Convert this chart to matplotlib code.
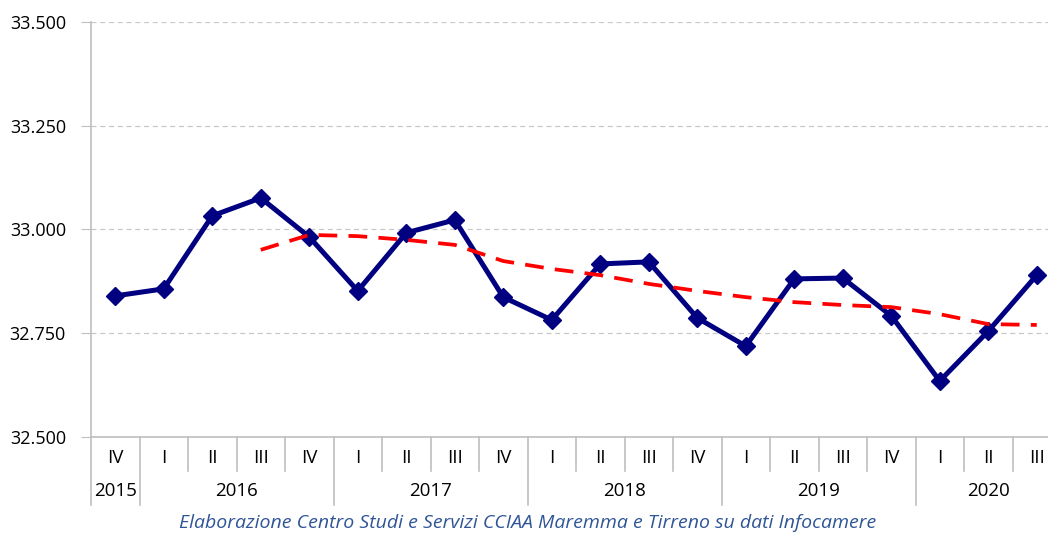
import matplotlib.pyplot as plt
import matplotlib.ticker as mticker
from matplotlib.lines import Line2D

quarters = ["IV", "I", "II", "III", "IV", "I", "II", "III", "IV", "I",
            "II", "III", "IV", "I", "II", "III", "IV", "I", "II", "III"]
years = ["2015", "2016", "2017", "2018", "2019", "2020"]
year_start = [0, 1, 5, 9, 13, 17]   # first quarter index of each year
imprese = [32840, 32857, 33033, 33076, 32982, 32852, 32992, 33023, 32837, 32782,
           32917, 32922, 32787, 32719, 32881, 32883, 32792, 32635, 32755, 32890]
# trend (dashed red), starts at III 2016
trend_idx = list(range(3, 20))
trend = [32951, 32987, 32984, 32975, 32963, 32924, 32905, 32890, 32869, 32852,
         32837, 32825, 32818, 32813, 32796, 32772, 32770]
caption = "Elaborazione Centro Studi e Servizi CCIAA Maremma e Tirreno su dati Infocamere"

plt.rcParams['font.family'] = ['Open Sans', 'DejaVu Sans']

W, H = 1048, 534
fig = plt.figure(figsize=(W / 100, H / 100), dpi=100)
x0, x1, ytop, ybot = 91, 1061, 22, 437
ax = fig.add_axes([x0 / W, 1 - ybot / H, (x1 - x0) / W, (ybot - ytop) / H])

x = list(range(len(quarters)))
ax.plot(x, imprese, color='#000080', lw=3.6, marker='D', ms=9.5, zorder=3)
ax.plot(trend_idx, trend, color='#FF0000', lw=2.7, ls=(0, (5, 3)), zorder=4)

ax.set_xlim(-0.5, len(quarters) - 0.5)
ax.set_ylim(32500, 33500)
ax.yaxis.set_major_locator(mticker.MultipleLocator(250))
ax.yaxis.set_major_formatter(mticker.FuncFormatter(lambda v, p: f"{v:,.0f}".replace(",", ".")))
ax.grid(axis='y', color='#C8C8C8', ls=(0, (4, 3)), lw=0.9)
ax.set_axisbelow(True)
for s in ['top', 'right']:
    ax.spines[s].set_visible(False)
ax.spines['left'].set_color('#BFBFBF')
ax.spines['bottom'].set_color('#BFBFBF')
ax.spines['left'].set_linewidth(1.2)
ax.spines['bottom'].set_linewidth(1.2)
ax.tick_params(axis='y', length=7, color='#BFBFBF', labelsize=13, pad=11)
ax.set_xticks([])

# two-level category axis
def fx(i):
    return ax.transData.transform((i, 0))[0] / W

def fy(py):
    return 1 - py / H

for i, q in enumerate(quarters):
    fig.text(fx(i), fy(458), q, ha='center', va='center', fontsize=13.5)
    if i > 0 and i not in year_start:
        xb = fx(i - 0.5)
        fig.add_artist(Line2D([xb, xb], [fy(437), fy(471)], color='#BFBFBF', lw=1.2))
for k, y in enumerate(year_start):
    xb = fx(y - 0.5)
    fig.add_artist(Line2D([xb, xb], [fy(437), fy(505)], color='#BFBFBF', lw=1.2))
    end = year_start[k + 1] if k + 1 < len(year_start) else len(quarters)
    fig.text(fx((y + end - 1) / 2), fy(491), years[k], ha='center', va='center', fontsize=13.5)

fig.text(528 / W, fy(523), caption, ha='center', va='center', fontsize=14,
         style='italic', color='#2F5597')

fig.savefig('out.png', dpi=100)
